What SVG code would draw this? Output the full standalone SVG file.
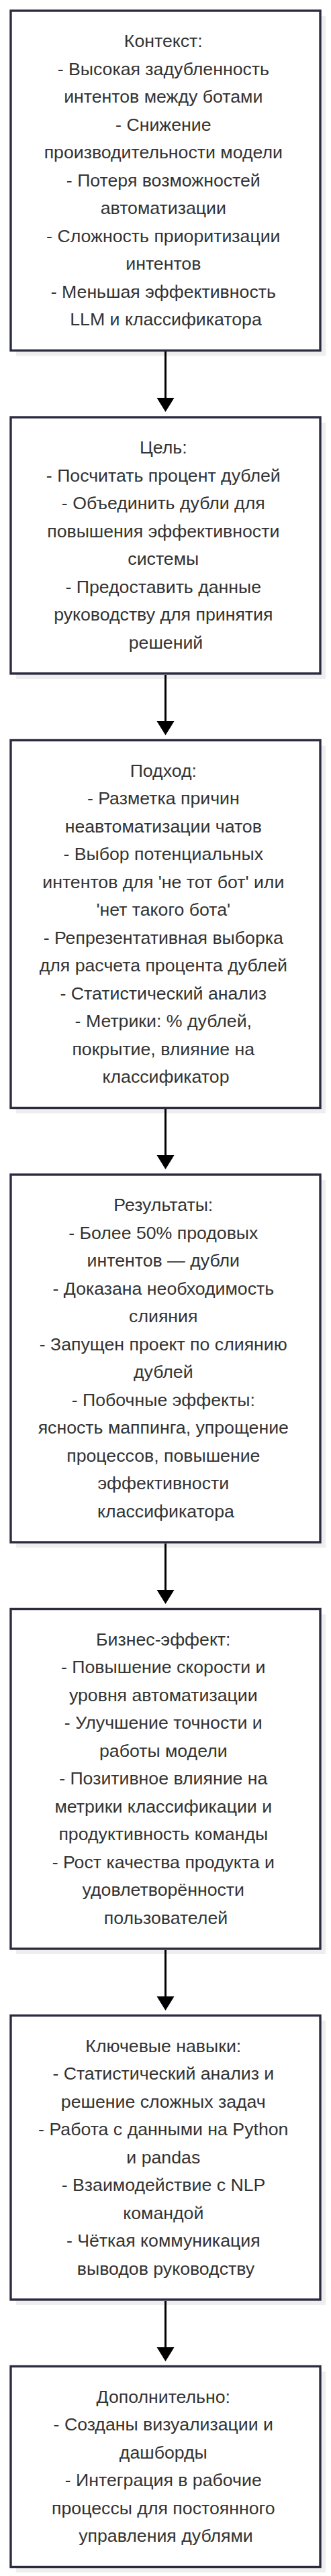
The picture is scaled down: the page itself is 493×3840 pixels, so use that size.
<svg xmlns="http://www.w3.org/2000/svg" width="493" height="3840" viewBox="0 0 493 3840">
<style>
.sh{fill:#eeeeee;stroke:none}
.bx{fill:#ffffff;stroke:#2c2c40;stroke-width:3.4}
.t{font-family:"Liberation Sans",Arial,sans-serif;font-size:26.7px;fill:#333333;text-anchor:middle}
.ln{stroke:#000000;stroke-width:3;fill:none}
.ah{fill:#000000}
</style>
<rect width="493" height="3840" fill="#ffffff"/>
<g id="n1">
<rect class="sh" x="24" y="24" width="461" height="506.5"/>
<rect class="bx" x="16" y="16" width="461" height="506.5"/>
<text class="t" x="247" y="70">
<tspan x="247" dy="0">Контекст:</tspan>
<tspan x="247" dy="41.5">- Высокая задубленность</tspan>
<tspan x="247" dy="41.5">интентов между ботами</tspan>
<tspan x="247" dy="41.5">- Снижение</tspan>
<tspan x="247" dy="41.5">производительности модели</tspan>
<tspan x="247" dy="41.5">- Потеря возможностей</tspan>
<tspan x="247" dy="41.5">автоматизации</tspan>
<tspan x="247" dy="41.5">- Сложность приоритизации</tspan>
<tspan x="247" dy="41.5">интентов</tspan>
<tspan x="247" dy="41.5">- Меньшая эффективность</tspan>
<tspan x="247" dy="41.5">LLM и классификатора</tspan>
</text>
</g>
<g id="n2">
<rect class="sh" x="24" y="630" width="461" height="382"/>
<rect class="bx" x="16" y="622" width="461" height="382"/>
<text class="t" x="247" y="676">
<tspan x="247" dy="0">Цель:</tspan>
<tspan x="247" dy="41.5">- Посчитать процент дублей</tspan>
<tspan x="247" dy="41.5">- Объединить дубли для</tspan>
<tspan x="247" dy="41.5">повышения эффективности</tspan>
<tspan x="247" dy="41.5">системы</tspan>
<tspan x="247" dy="41.5">- Предоставить данные</tspan>
<tspan x="247" dy="41.5">руководству для принятия</tspan>
<tspan x="247" dy="41.5">решений</tspan>
</text>
</g>
<g id="n3">
<rect class="sh" x="24" y="1111.5" width="461" height="548"/>
<rect class="bx" x="16" y="1103.5" width="461" height="548"/>
<text class="t" x="247" y="1157.5">
<tspan x="247" dy="0">Подход:</tspan>
<tspan x="247" dy="41.5">- Разметка причин</tspan>
<tspan x="247" dy="41.5">неавтоматизации чатов</tspan>
<tspan x="247" dy="41.5">- Выбор потенциальных</tspan>
<tspan x="247" dy="41.5">интентов для 'не тот бот' или</tspan>
<tspan x="247" dy="41.5">'нет такого бота'</tspan>
<tspan x="247" dy="41.5">- Репрезентативная выборка</tspan>
<tspan x="247" dy="41.5">для расчета процента дублей</tspan>
<tspan x="247" dy="41.5">- Статистический анализ</tspan>
<tspan x="247" dy="41.5">- Метрики: % дублей,</tspan>
<tspan x="247" dy="41.5">покрытие, влияние на</tspan>
<tspan x="247" dy="41.5">классификатор</tspan>
</text>
</g>
<g id="n4">
<rect class="sh" x="24" y="1759" width="461" height="548"/>
<rect class="bx" x="16" y="1751" width="461" height="548"/>
<text class="t" x="247" y="1805">
<tspan x="247" dy="0">Результаты:</tspan>
<tspan x="247" dy="41.5">- Более 50% продовых</tspan>
<tspan x="247" dy="41.5">интентов — дубли</tspan>
<tspan x="247" dy="41.5">- Доказана необходимость</tspan>
<tspan x="247" dy="41.5">слияния</tspan>
<tspan x="247" dy="41.5">- Запущен проект по слиянию</tspan>
<tspan x="247" dy="41.5">дублей</tspan>
<tspan x="247" dy="41.5">- Побочные эффекты:</tspan>
<tspan x="247" dy="41.5">ясность маппинга, упрощение</tspan>
<tspan x="247" dy="41.5">процессов, повышение</tspan>
<tspan x="247" dy="41.5">эффективности</tspan>
<tspan x="247" dy="41.5">классификатора</tspan>
</text>
</g>
<g id="n5">
<rect class="sh" x="24" y="2406.5" width="461" height="506.5"/>
<rect class="bx" x="16" y="2398.5" width="461" height="506.5"/>
<text class="t" x="247" y="2452.5">
<tspan x="247" dy="0">Бизнес-эффект:</tspan>
<tspan x="247" dy="41.5">- Повышение скорости и</tspan>
<tspan x="247" dy="41.5">уровня автоматизации</tspan>
<tspan x="247" dy="41.5">- Улучшение точности и</tspan>
<tspan x="247" dy="41.5">работы модели</tspan>
<tspan x="247" dy="41.5">- Позитивное влияние на</tspan>
<tspan x="247" dy="41.5">метрики классификации и</tspan>
<tspan x="247" dy="41.5">продуктивность команды</tspan>
<tspan x="247" dy="41.5">- Рост качества продукта и</tspan>
<tspan x="247" dy="41.5">удовлетворённости</tspan>
<tspan x="247" dy="41.5">пользователей</tspan>
</text>
</g>
<g id="n6">
<rect class="sh" x="24" y="3012.5" width="461" height="423.5"/>
<rect class="bx" x="16" y="3004.5" width="461" height="423.5"/>
<text class="t" x="247" y="3058.5">
<tspan x="247" dy="0">Ключевые навыки:</tspan>
<tspan x="247" dy="41.5">- Статистический анализ и</tspan>
<tspan x="247" dy="41.5">решение сложных задач</tspan>
<tspan x="247" dy="41.5">- Работа с данными на Python</tspan>
<tspan x="247" dy="41.5">и pandas</tspan>
<tspan x="247" dy="41.5">- Взаимодействие с NLP</tspan>
<tspan x="247" dy="41.5">командой</tspan>
<tspan x="247" dy="41.5">- Чёткая коммуникация</tspan>
<tspan x="247" dy="41.5">выводов руководству</tspan>
</text>
</g>
<g id="n7">
<rect class="sh" x="24" y="3535.5" width="461" height="299"/>
<rect class="bx" x="16" y="3527.5" width="461" height="299"/>
<text class="t" x="247" y="3581.5">
<tspan x="247" dy="0">Дополнительно:</tspan>
<tspan x="247" dy="41.5">- Созданы визуализации и</tspan>
<tspan x="247" dy="41.5">дашборды</tspan>
<tspan x="247" dy="41.5">- Интеграция в рабочие</tspan>
<tspan x="247" dy="41.5">процессы для постоянного</tspan>
<tspan x="247" dy="41.5">управления дублями</tspan>
</text>
</g>
<g id="connectors">
<line class="ln" x1="246.5" y1="524" x2="246.5" y2="595"/>
<polygon class="ah" points="233.5,593 259.5,593 246.5,614"/>
<line class="ln" x1="246.5" y1="1006" x2="246.5" y2="1077"/>
<polygon class="ah" points="233.5,1075 259.5,1075 246.5,1096"/>
<line class="ln" x1="246.5" y1="1653" x2="246.5" y2="1724"/>
<polygon class="ah" points="233.5,1722 259.5,1722 246.5,1743"/>
<line class="ln" x1="246.5" y1="2301" x2="246.5" y2="2372"/>
<polygon class="ah" points="233.5,2370 259.5,2370 246.5,2391"/>
<line class="ln" x1="246.5" y1="2907" x2="246.5" y2="2978"/>
<polygon class="ah" points="233.5,2976 259.5,2976 246.5,2997"/>
<line class="ln" x1="246.5" y1="3430" x2="246.5" y2="3501"/>
<polygon class="ah" points="233.5,3499 259.5,3499 246.5,3520"/>
</g>
</svg>
